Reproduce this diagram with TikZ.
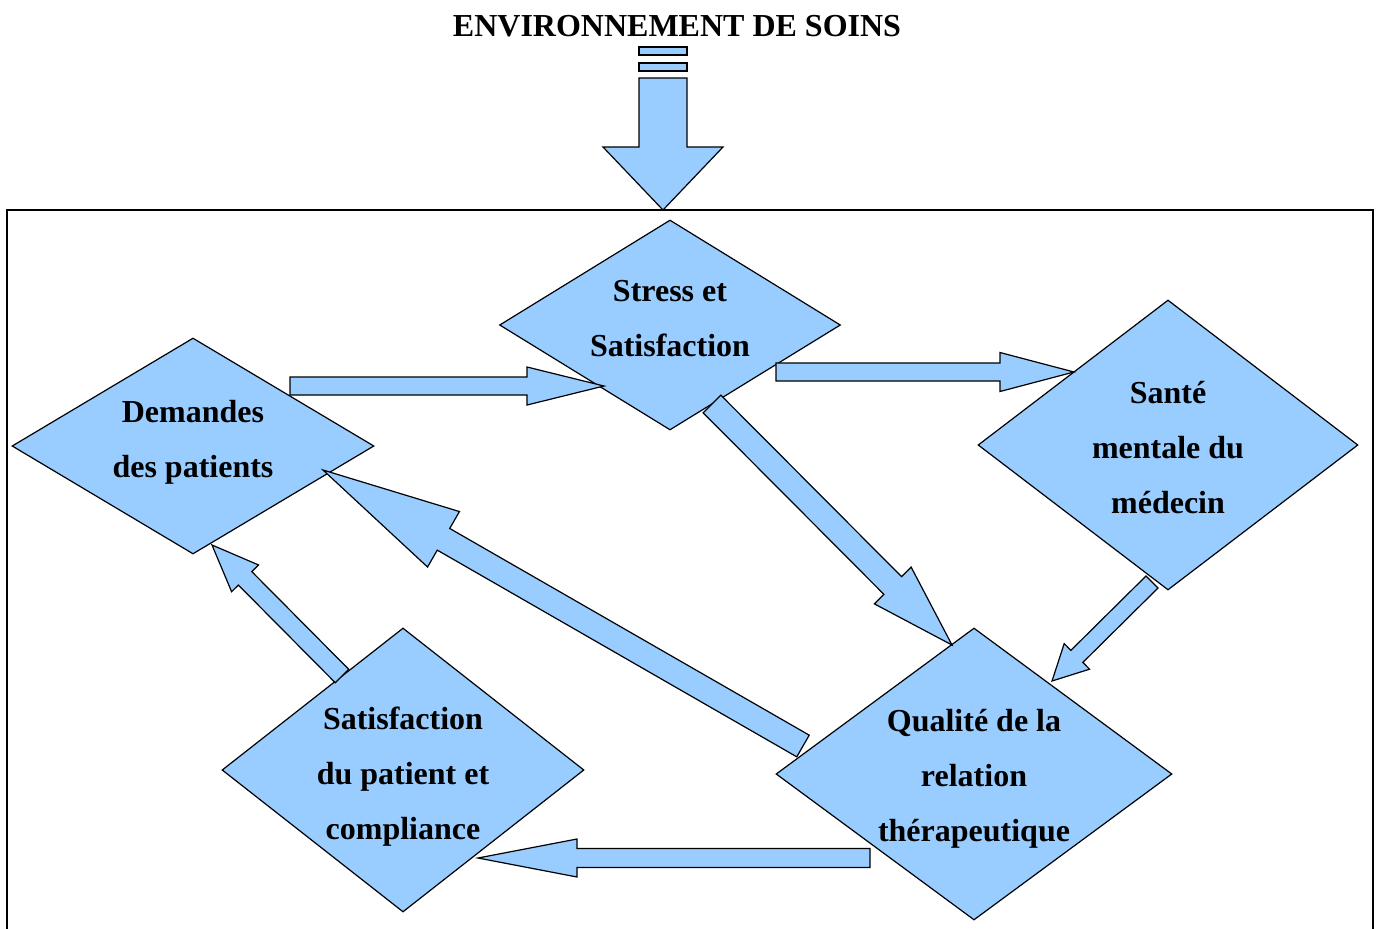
\documentclass[tikz,border=0pt]{standalone}
\usepackage{fontspec}
\setmainfont{Liberation Serif}
\usetikzlibrary{shapes.geometric, calc}
\definecolor{careblue}{HTML}{99CCFF}
\tikzset{
  care node/.style={
    diamond,
    draw,
    fill=careblue,
    line width=1.2pt,
    inner sep=0pt,
  },
  care text/.style={
    align=center,
    inner sep=0pt,
    font=\bfseries\fontsize{32}{55}\selectfont,
  },
  block arrow/.style={
    draw,
    fill=careblue,
    line width=1.2pt,
    line join=miter,
  },
}
\newcommand{\blockarrow}[5]{%
  \coordinate (head) at ($(#2)!#5!(#1)$);
  \draw[block arrow] ($(#1)!#3!90:(#2)$) -- ($(head)!#3!90:(#2)$)
    -- ($(head)!#4!90:(#2)$) -- (#2) -- ($(head)!#4!-90:(#2)$)
    -- ($(head)!#3!-90:(#2)$) -- ($(#1)!#3!-90:(#2)$) -- cycle;
}

\begin{document}
\begin{tikzpicture}[x=1pt, y=-1pt]
      \useasboundingbox (0,0) rectangle (1379,929);

      \node[font=\bfseries\fontsize{32}{38}\selectfont] (title) at (677,26) {ENVIRONNEMENT DE SOINS};
      \draw[line width=1.5pt] (7,929) -- (7,210) -- (1373,210) -- (1373,929);

      \node[care node, minimum width=341pt, minimum height=210pt] (stress) at (670,325) {};
      \node[care node, minimum width=362pt, minimum height=216pt] (demandes) at (193,446) {};
      \node[care node, minimum width=380pt, minimum height=290pt] (sante) at (1168,445) {};
      \node[care node, minimum width=362pt, minimum height=284pt] (satis) at (403,770) {};
      \node[care node, minimum width=396pt, minimum height=292pt] (qualite) at (974,774) {};

      \node[care text] (stress text) at (670,319) {Stress et\\Satisfaction};
      \node[care text] (demandes text) at (193,442) {Demandes\\des patients};
      \node[care text] (sante text) at (1168,448) {Santé\\mentale du\\médecin};
      \node[care text] (satis text) at (403,777) {Satisfaction\\du patient et\\compliance};
      \node[care text] (qualite text) at (974,779) {Qualité de la\\relation\\thérapeutique};

      \draw[block arrow] (639,47) rectangle (687,55);
      \draw[block arrow] (639,63) rectangle (687,71);
      \coordinate (env out) at (663,78);
      \coordinate (env in) at (663,210);
      \blockarrow{env out}{env in}{24pt}{60pt}{63pt}

      \coordinate (demandes out) at (290,386);
      \coordinate (stress in) at (604,386);
      \coordinate (stress out1) at (776,372);
      \coordinate (sante in) at (1074,372);
      \coordinate (stress out2) at (712,404);
      \coordinate (qualite in1) at (952,645);
      \coordinate (sante out) at (1152,582);
      \coordinate (qualite in2) at (1052,681);
      \coordinate (qualite out1) at (803,746);
      \coordinate (demandes in1) at (323,470);
      \coordinate (satis out) at (342,676);
      \coordinate (demandes in2) at (212,545);
      \coordinate (qualite out2) at (870,858);
      \coordinate (satis in) at (478,858);

      \blockarrow{demandes out}{stress in}{9pt}{19pt}{77pt}
      \blockarrow{stress out1}{sante in}{9pt}{19.5pt}{74pt}
      \blockarrow{stress out2}{qualite in1}{12.5pt}{26pt}{84pt}
      \blockarrow{sante out}{qualite in2}{8.5pt}{18pt}{35pt}
      \blockarrow{qualite out1}{demandes in1}{12.5pt}{32pt}{139pt}
      \blockarrow{satis out}{demandes in2}{9.5pt}{19pt}{47pt}
      \blockarrow{qualite out2}{satis in}{9.5pt}{19pt}{99pt}
    \end{tikzpicture}
\end{document}
